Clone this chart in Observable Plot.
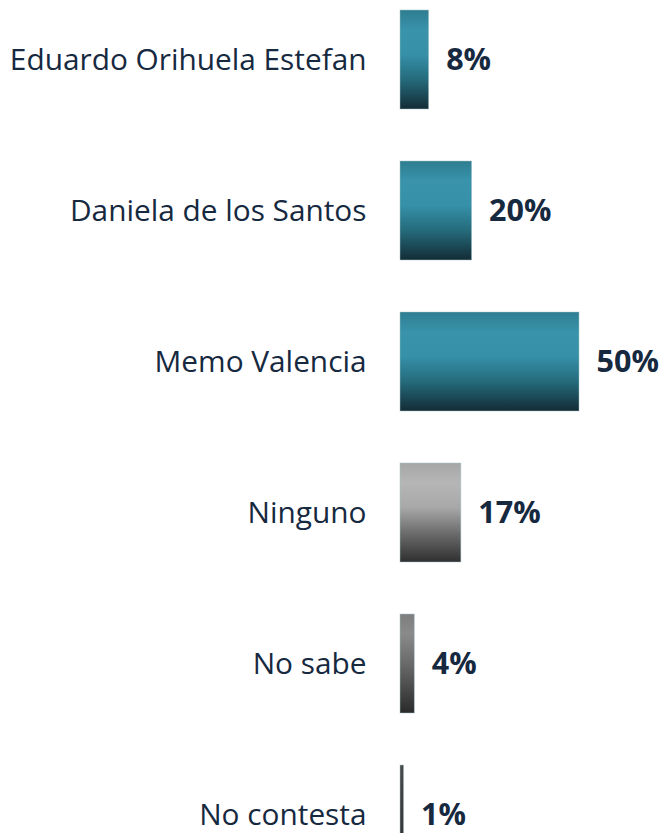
<!DOCTYPE html>
<html>
<head>
<meta charset="utf-8">
<script src="https://cdn.jsdelivr.net/npm/d3@7"></script>
<script src="https://cdn.jsdelivr.net/npm/@observablehq/plot@0.6"></script>
<style>
  html, body { margin: 0; padding: 0; background: #ffffff; overflow: hidden; }
  #chart { width: 661px; height: 833px; overflow: hidden; }
</style>
</head>
<body>
<div id="chart"></div>
<script>
const candidates = ["Eduardo Orihuela Estefan", "Daniela de los Santos", "Memo Valencia", "Ninguno", "No sabe", "No contesta"];
const percents = [8, 20, 50, 17, 4, 1];
const fills = ["teal", "teal", "teal", "grey", "greymid", "greydark"];

const data = candidates.map((name, i) => ({name, value: percents[i], fill: `url(#grad-${fills[i]})`}));

const plot = Plot.plot({
  width: 661,
  height: 867,
  marginLeft: 400,
  marginRight: 82,
  marginTop: 7,
  marginBottom: 0,
  style: {fontFamily: "'Open Sans', Lato, sans-serif", color: "#16293f", background: "transparent"},
  x: {domain: [0, 50], axis: null},
  y: {domain: candidates, paddingInner: 0.342, paddingOuter: 0, label: null},
  color: {type: "identity"},
  marks: [
    Plot.barX(data, {y: "name", x: "value", fill: "fill", stroke: "#a9c3c9", strokeWidth: 0.8, strokeOpacity: 0.6}),
    Plot.axisY({tickSize: 0, tickPadding: 34, fontSize: 29.8, fill: "#16293f", label: null}),
    Plot.text(data, {y: "name", x: "value", text: d => d.value + "%", dx: 17, textAnchor: "start", fontSize: 30.5, fontWeight: "bold", fill: "#16293f"})
  ]
});

const svgNS = "http://www.w3.org/2000/svg";
const defs = document.createElementNS(svgNS, "defs");
function grad(id, stops) {
  const g = document.createElementNS(svgNS, "linearGradient");
  g.setAttribute("id", id);
  g.setAttribute("x1", "0"); g.setAttribute("y1", "0");
  g.setAttribute("x2", "0"); g.setAttribute("y2", "1");
  for (const [o, c] of stops) {
    const s = document.createElementNS(svgNS, "stop");
    s.setAttribute("offset", o);
    s.setAttribute("stop-color", c);
    g.appendChild(s);
  }
  defs.appendChild(g);
}
grad("grad-teal", [[0, "#2e7d90"], [0.2, "#3893ab"], [0.45, "#3590a8"], [0.7, "#256b7c"], [1, "#132c36"]]);
grad("grad-grey", [[0, "#a6a6a6"], [0.2, "#b6b6b6"], [0.45, "#a8a8a8"], [0.7, "#6e6e6e"], [1, "#2f2f2f"]]);
grad("grad-greymid", [[0, "#7e7e7e"], [0.2, "#8a8a8a"], [0.5, "#6a6a6a"], [0.75, "#4a4a4a"], [1, "#2a2a2a"]]);
grad("grad-greydark", [[0, "#4a4a4a"], [1, "#2e2e2e"]]);
plot.insertBefore(defs, plot.firstChild);

document.getElementById("chart").appendChild(plot);
</script>
</body>
</html>
